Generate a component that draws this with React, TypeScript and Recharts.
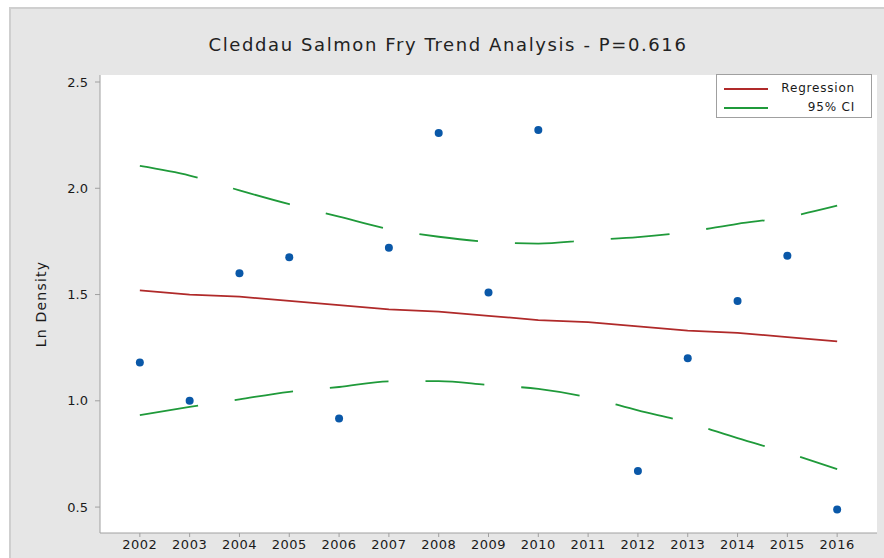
import { ComposedChart, Line, Scatter, XAxis, YAxis, CartesianGrid } from 'recharts';

const years = [2002, 2003, 2004, 2005, 2006, 2007, 2008, 2009, 2010, 2011, 2012, 2013, 2014, 2015, 2016];
const density = [1.18, 1.0, 1.6, 1.675, 0.917, 1.72, 2.26, 1.51, 2.274, null, 0.67, 1.2, 1.47, 1.683, 0.489];
const regression = [1.52, 1.5, 1.49, 1.47, 1.45, 1.43, 1.42, 1.4, 1.38, 1.37, 1.35, 1.33, 1.32, 1.3, 1.28];
const ciUpper = [2.105, 2.06, 1.99, 1.925, 1.867, 1.808, 1.772, 1.748, 1.74, 1.756, 1.77, 1.795, 1.833, 1.865, 1.918];
const ciLower = [0.933, 0.971, 1.007, 1.042, 1.065, 1.091, 1.093, 1.074, 1.056, 1.016, 0.955, 0.898, 0.824, 0.755, 0.679];
const yTicks = [0.5, 1.0, 1.5, 2.0, 2.5];

const rows = years.map((year, i) => ({ year, regression: regression[i], upper: ciUpper[i], lower: ciLower[i] }));
const points = years
    .map((year, i) => ({ year, density: density[i] }))
    .filter((p) => p.density !== null);

const FONT = '"DejaVu Sans", sans-serif';
const FRAME = '#a0a0a0';
const RED = '#b02a2a';
const GREEN = '#1f9a3a';
const BLUE = '#0a58a8';

const Dot = (props: any) => <circle cx={props.cx} cy={props.cy} r={4} fill={BLUE} />;

export default function App() {
    return (
        <div style={{ position: 'absolute', left: 0, top: 0, width: 884, height: 558, background: '#fff', overflow: 'hidden', fontFamily: FONT }}>
            <div style={{ position: 'absolute', left: 9, top: 7, width: 900, height: 600, background: '#e6e6e6', borderLeft: '2px solid #cfcfcf', borderTop: '2px solid #cfcfcf' }} />
            <div style={{ position: 'absolute', left: 9, top: 33, width: 878, textAlign: 'center', fontSize: 18, lineHeight: '24px', color: '#222', letterSpacing: 1.6 }}>
                Cleddau Salmon Fry Trend Analysis - P=0.616
            </div>
            <div style={{ position: 'absolute', left: 0, top: 0 }}>
                <ComposedChart width={884} height={558} data={rows} margin={{ top: 75, right: 7, bottom: 0, left: 0 }}>
                    <CartesianGrid fill="#fff" horizontal={false} vertical={false} />
                    <XAxis
                        dataKey="year"
                        type="number"
                        domain={[2001.2, 2016.8]}
                        ticks={years}
                        interval={0}
                        height={25}
                        stroke={FRAME}
                        tickSize={4}
                        tickMargin={3}
                        tick={{ fill: '#1a1a1a', fontSize: 13, letterSpacing: 0.5 }}
                    />
                    <XAxis xAxisId="top" orientation="top" type="number" dataKey="year" domain={[2001.2, 2016.8]} height={0} tick={false} tickLine={false} stroke={FRAME} />
                    <YAxis
                        type="number"
                        domain={[0.378, 2.533]}
                        ticks={yTicks}
                        width={100}
                        stroke={FRAME}
                        tickSize={5}
                        tickMargin={7}
                        tickFormatter={(v: number) => v.toFixed(1)}
                        tick={{ fill: '#1a1a1a', fontSize: 13 }}
                        label={{ value: 'Ln Density', angle: -90, position: 'insideLeft', offset: 41, style: { textAnchor: 'middle', fill: '#1a1a1a', fontSize: 14, letterSpacing: 1.2 } }}
                    />
                    <YAxis yAxisId="right" orientation="right" domain={[0.378, 2.533]} width={0} tick={false} tickLine={false} stroke={FRAME} />
                    <Line dataKey="upper" type="monotone" stroke={GREEN} strokeWidth={1.8} strokeDasharray="59 37" dot={false} activeDot={false} isAnimationActive={false} />
                    <Line dataKey="lower" type="monotone" stroke={GREEN} strokeWidth={1.8} strokeDasharray="59 37" dot={false} activeDot={false} isAnimationActive={false} />
                    <Line dataKey="regression" type="linear" stroke={RED} strokeWidth={1.8} dot={false} activeDot={false} isAnimationActive={false} />
                    <Scatter data={points} dataKey="density" shape={Dot} isAnimationActive={false} />
                </ComposedChart>
            </div>
            <div style={{ position: 'absolute', left: 716, top: 74, width: 154, height: 42, background: '#fff', border: `1px solid ${FRAME}`, fontSize: 12, color: '#1a1a1a', letterSpacing: 0.8 }}>
                <div style={{ position: 'absolute', left: 7, top: 13, width: 44, height: 2, background: RED }} />
                <div style={{ position: 'absolute', left: 7, top: 32, width: 44, height: 2, background: GREEN }} />
                <div style={{ position: 'absolute', right: 16, top: 6, lineHeight: '15px' }}>Regression</div>
                <div style={{ position: 'absolute', right: 16, top: 25, lineHeight: '15px' }}>95% CI</div>
            </div>
        </div>
    );
}
